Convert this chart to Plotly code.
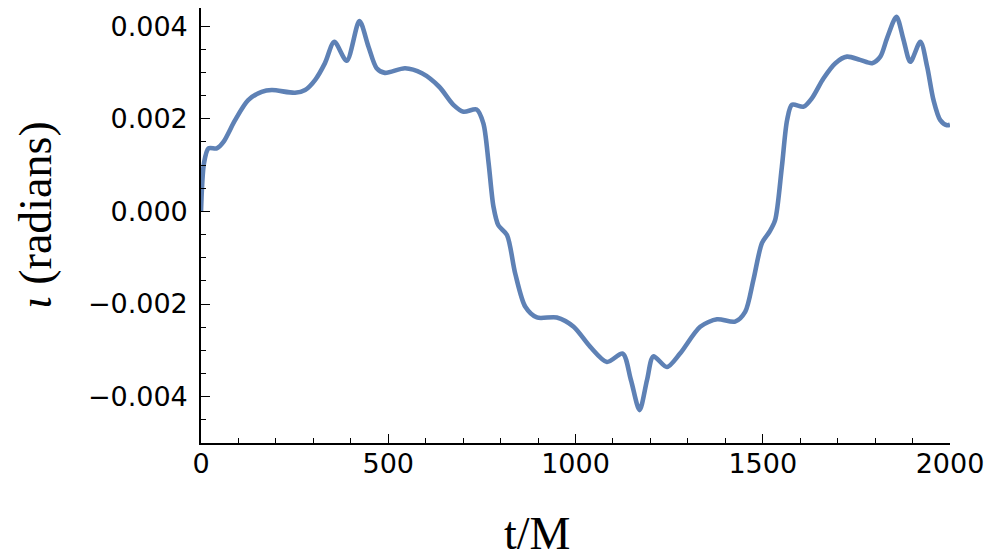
import plotly.graph_objects as go

# Inclination angle iota over time t/M
t_vals = [0, 8, 20, 42, 60, 91, 126, 162, 189, 251, 278, 305, 331, 356, 389, 423,
          447, 469, 491, 545, 590, 636, 674, 701, 736, 754, 768, 781, 794, 817,
          839, 866, 897, 950, 995, 1039, 1084, 1126, 1148, 1171, 1191, 1208, 1244,
          1279, 1333, 1378, 1426, 1453, 1475, 1498, 1518, 1533, 1551, 1565, 1578,
          1609, 1631, 1662, 1694, 1725, 1760, 1792, 1814, 1832, 1857, 1876, 1894,
          1921, 1939, 1956, 1974, 1992, 2000]
iota_vals = [0.0, 0.00104, 0.00136, 0.00136, 0.00150, 0.00197, 0.00240, 0.00258,
             0.00262, 0.00256, 0.00262, 0.00284, 0.00320, 0.00366, 0.00325, 0.00411,
             0.00356, 0.00309, 0.00299, 0.00309, 0.00298, 0.00269, 0.00230, 0.00215,
             0.00220, 0.00190, 0.00104, 0.00010, -0.00030, -0.00051, -0.00134,
             -0.00206, -0.00229, -0.00229, -0.00249, -0.00292, -0.00325, -0.00307,
             -0.00364, -0.00429, -0.00364, -0.00313, -0.00336, -0.00307, -0.00249,
             -0.00233, -0.00238, -0.00217, -0.00148, -0.00068, -0.00044, -0.00019,
             0.00096, 0.00197, 0.00230, 0.00226, 0.00244, 0.00287, 0.00320, 0.00334,
             0.00327, 0.00320, 0.00334, 0.00374, 0.00420, 0.00370, 0.00323, 0.00366,
             0.00312, 0.00240, 0.00197, 0.00186, 0.00187]

x_ticks = [0, 500, 1000, 1500, 2000]
x_tick_labels = ["0", "500", "1000", "1500", "2000"]
y_ticks = [-0.004, -0.002, 0.0, 0.002, 0.004]
y_tick_labels = ["\u22120.004", "\u22120.002", "0.000", "0.002", "0.004"]

W, H = 992, 560
M_L, M_R, M_T, M_B = 201, 42, 8, 117
PW, PH = W - M_L - M_R, H - M_T - M_B


def px_x(px):
    return (px - M_L) / PW


def px_y(py):
    return (H - M_B - py) / PH


fig = go.Figure()
fig.add_trace(go.Scatter(
    x=t_vals, y=iota_vals, mode="lines",
    line=dict(color="#5E81B5", width=4.6, shape="spline", smoothing=0.8),
    hoverinfo="skip", showlegend=False,
))

tick_font = dict(family="DejaVu Sans", size=27, color="black")
fig.update_xaxes(
    range=[0, 2000], tickvals=x_ticks, ticktext=x_tick_labels,
    ticks="inside", ticklen=9, tickwidth=1.3, tickcolor="black",
    minor=dict(dtick=100, tick0=0, ticks="inside", ticklen=5, tickwidth=1.3, tickcolor="black"),
    showline=True, linecolor="black", linewidth=1.6, showgrid=False, zeroline=False,
    tickfont=tick_font, ticklabelstandoff=-4,
)
fig.update_yaxes(
    range=[-0.005, 0.00439], tickvals=y_ticks, ticktext=y_tick_labels,
    ticks="inside", ticklen=9, tickwidth=1.3, tickcolor="black",
    minor=dict(dtick=0.0005, tick0=0, ticks="inside", ticklen=5.5, tickwidth=1.3, tickcolor="black"),
    showline=True, linecolor="black", linewidth=1.6, showgrid=False, zeroline=False,
    tickfont=tick_font, ticklabelstandoff=6,
)

serif = dict(family="Liberation Serif", size=46, color="black")
fig.add_annotation(text="t/M", xref="paper", yref="paper",
                   x=px_x(536.5), y=px_y(560), xanchor="center", yanchor="bottom",
                   borderpad=0, showarrow=False, font=serif)
fig.add_annotation(text="<i>\u03b9</i> (radians)", xref="paper", yref="paper",
                   x=px_x(36), y=px_y(215), xanchor="center", yanchor="middle",
                   textangle=-90, showarrow=False, font=serif)

fig.update_layout(
    width=W, height=H, autosize=False,
    margin=dict(l=M_L, r=M_R, t=M_T, b=M_B, pad=0),
    paper_bgcolor="white", plot_bgcolor="white",
)

fig.write_html("out.html")
